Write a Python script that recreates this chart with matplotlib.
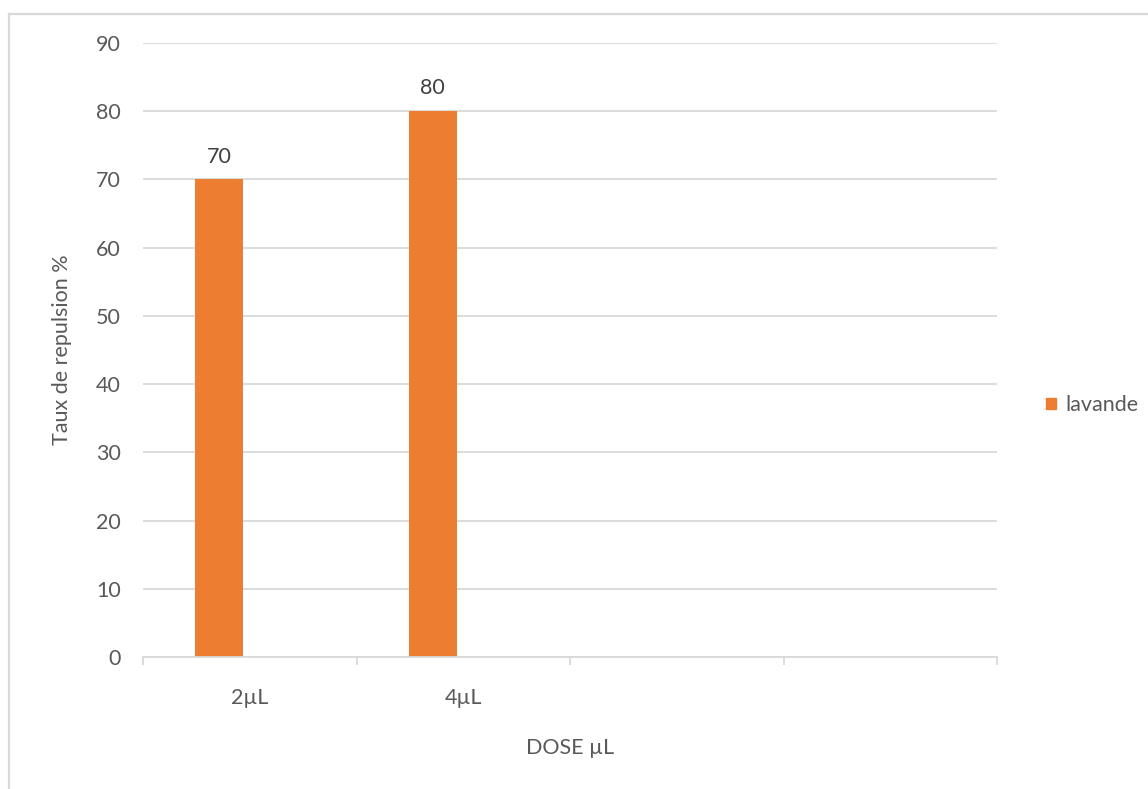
import numpy as np
import matplotlib.pyplot as plt
from matplotlib.lines import Line2D
from matplotlib.patches import Patch

# Donnees
categories = ["2µL", "4µL", "", ""]
lavande = [70, 80, np.nan, np.nan]
y_ticks = list(range(0, 100, 10))

ORANGE = "#ED7D31"
GRIS_TXT = "#595959"
GRIS_LIGNE = "#D9D9D9"
FS = 15.5

plt.rcParams['font.family'] = ['Lato', 'DejaVu Sans']

fig = plt.figure(figsize=(11.48, 7.89), dpi=100)
ax = fig.add_axes([143 / 1148, 1 - 657 / 789, (997 - 143) / 1148, (657 - 43) / 789])

x = np.arange(len(categories))
decal = -0.143
largeur = 0.225
for xi, v in zip(x, lavande):
    if np.isnan(v):
        continue
    ax.bar(xi + decal, v, width=largeur, color=ORANGE, zorder=3)
    ax.annotate(f"{v:g}", (xi + decal, v), xytext=(0, 16.5), textcoords="offset points",
                ha="center", va="center", fontsize=FS, color="#404040")

ax.set_xlim(-0.5, len(categories) - 0.5)
ax.set_ylim(0, 90)
ax.set_yticks(y_ticks)
ax.yaxis.grid(True, color=GRIS_LIGNE, linewidth=1.3, zorder=0)
ax.tick_params(axis='y', length=0, pad=16, labelsize=FS, labelcolor=GRIS_TXT)

# ticks de categories aux frontieres, libelles au centre
ax.set_xticks(np.arange(-0.5, len(categories), 1.0))
ax.set_xticklabels([])
ax.set_xticks(x, minor=True)
ax.set_xticklabels(categories, minor=True)
ax.tick_params(axis='x', which='major', length=6, width=1.3, color=GRIS_LIGNE)
ax.tick_params(axis='x', which='minor', length=0, pad=22, labelsize=FS, labelcolor=GRIS_TXT)

for s in ['top', 'right', 'left']:
    ax.spines[s].set_visible(False)
ax.spines['bottom'].set_color(GRIS_LIGNE)
ax.spines['bottom'].set_linewidth(1.3)
ax.spines['bottom'].set_zorder(4)

ax.set_xlabel("DOSE µL", fontsize=FS, color=GRIS_TXT, labelpad=22)
ax.set_ylabel("Taux de repulsion %", fontsize=FS, color=GRIS_TXT, labelpad=17)

fig.legend(handles=[Patch(color=ORANGE, label="lavande")], loc="center left",
           bbox_to_anchor=(1027 / 1148, 1 - 405 / 789), frameon=False,
           fontsize=FS, labelcolor=GRIS_TXT, handlelength=0.45, handleheight=0.45,
           handletextpad=0.45)

# cadre du graphique (coupe a droite et en bas)
fig.add_artist(Line2D([8.5 / 1148, 8.5 / 1148], [0, 1 - 13.5 / 789],
                      transform=fig.transFigure, color=GRIS_LIGNE, linewidth=1.6))
fig.add_artist(Line2D([8.5 / 1148, 1147 / 1148], [1 - 13.5 / 789, 1 - 13.5 / 789],
                      transform=fig.transFigure, color=GRIS_LIGNE, linewidth=1.6))

fig.savefig("out.png", dpi=100)
